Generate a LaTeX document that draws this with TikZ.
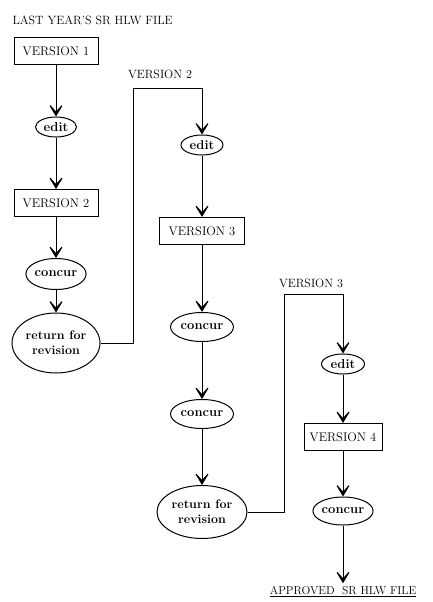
\documentclass[tikz,border=0pt]{standalone}
\usepackage{tikz}
\usetikzlibrary{arrows.meta,shapes.geometric}

\begin{document}
\begin{tikzpicture}[x=1pt,y=-1pt,
    vbox/.style={draw,line width=1pt,minimum height=27pt,inner sep=2pt,font=\fontsize{12.5}{14}\selectfont},
    act/.style={draw,ellipse,line width=1pt,inner sep=0pt,font=\fontsize{13}{14}\selectfont\bfseries},
    ret/.style={act,inner xsep=-3pt,align=center,font=\fontsize{12.5}{15}\selectfont\bfseries},
    flow/.style={line width=1pt,-{Stealth[length=15pt,width=18pt,inset=10pt]}},
    lbl/.style={font=\fontsize{12}{14}\selectfont}]
  \useasboundingbox (0,0) rectangle (433,602);
  \node[lbl,anchor=west] (src) at (9,20) {LAST YEAR'S SR HLW FILE};
  \node[vbox,minimum width=84pt] (v1) at (56,51) {VERSION 1};
  \node[act,minimum width=41pt,minimum height=20pt] (e1) at (56,127) {edit};
  \node[vbox,minimum width=84pt] (v2) at (56,203) {VERSION 2};
  \node[act,minimum width=60pt,minimum height=31pt] (c1) at (56,274) {concur};
  \node[ret,minimum width=88pt,minimum height=60pt] (r1) at (56,343) {return for\\revision};

  \node[lbl] (l2) at (160,74) {VERSION 2};
  \coordinate (k1) at (133,88);
  \node[act,minimum width=42pt,minimum height=20pt] (e2) at (202,145) {edit};
  \node[vbox,minimum width=85pt] (v3) at (202,231) {VERSION 3};
  \node[act,minimum width=63pt,minimum height=29pt] (c2) at (202,327) {concur};
  \node[act,minimum width=63pt,minimum height=29pt] (c3) at (202,414) {concur};
  \node[ret,minimum width=90pt,minimum height=53pt] (r2) at (202,512) {return for\\revision};

  \node[lbl] (l3) at (311,283) {VERSION 3};
  \coordinate (k2) at (284,294);
  \node[act,minimum width=43pt,minimum height=20pt] (e3) at (343,364) {edit};
  \node[vbox,minimum width=78pt] (v4) at (343,437) {VERSION 4};
  \node[act,minimum width=57pt,minimum height=28pt] (c4) at (343,511) {concur};
  \node[lbl,font=\fontsize{11.5}{13}\selectfont] (fin) at (343,592) {\underline{APPROVED\ \ SR HLW FILE}};

  \draw[flow] (v1) -- (e1);
  \draw[flow] (e1) -- (v2);
  \draw[flow] (v2) -- (c1);
  \draw[flow] (c1) -- (r1);
  \draw[flow] (r1.east) -| (k1) -| (e2.north);
  \draw[flow] (e2) -- (v3);
  \draw[flow] (v3) -- (c2);
  \draw[flow] (c2) -- (c3);
  \draw[flow] (c3) -- (r2);
  \draw[flow] (r2.east) -| (k2) -| (e3.north);
  \draw[flow] (e3) -- (v4);
  \draw[flow] (v4) -- (c4);
  \draw[flow] (c4) -- (fin.north);
\end{tikzpicture}
\end{document}
